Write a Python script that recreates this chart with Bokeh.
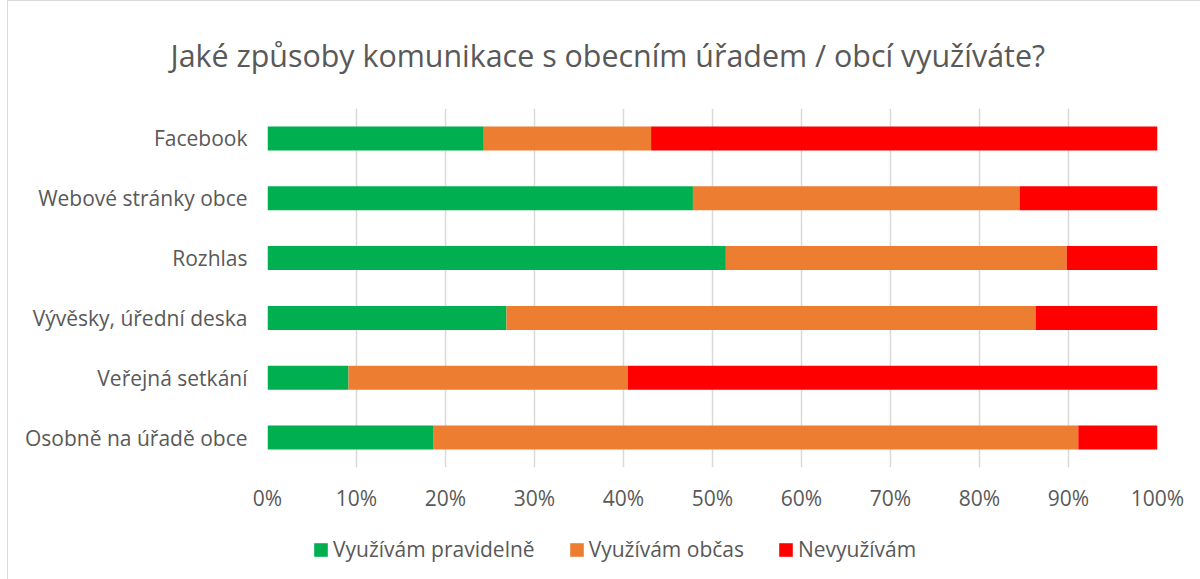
from bokeh.plotting import figure
from bokeh.layouts import column
from bokeh.models import ColumnDataSource, FactorRange, Range1d, NumeralTickFormatter, FixedTicker, Legend, LegendItem
from bokeh.embed import file_html
from bokeh.resources import INLINE

categories = ["Facebook", "Webové stránky obce", "Rozhlas", "Vývěsky, úřední deska", "Veřejná setkání", "Osobně na úřadě obce"]
pravidelne = [24.3, 47.8, 51.5, 26.85, 9.1, 18.6]
obcas = [18.8, 36.7, 38.3, 59.45, 31.4, 72.5]
nevyuzivam = [56.9, 15.5, 10.2, 13.7, 59.5, 8.9]
series_names = ["Využívám pravidelně", "Využívám občas", "Nevyužívám"]
colors = ["#00B050", "#ED7D31", "#FF0000"]
ticks = [i / 10 for i in range(11)]
title_text = "Jaké způsoby komunikace s obecním úřadem  / obcí využíváte?"

FONT = "Open Sans"
TXT = "#595959"

source = ColumnDataSource(dict(
    cat=categories,
    p=[v / 100 for v in pravidelne],
    o=[v / 100 for v in obcas],
    n=[v / 100 for v in nevyuzivam],
))

p = figure(
    width=1192, height=519,
    y_range=FactorRange(*categories[::-1], range_padding=0),
    x_range=Range1d(0, 1),
    output_backend="svg", toolbar_location=None,
    min_border_left=259, min_border_right=43, min_border_top=107, min_border_bottom=53,
)

renderers = p.hbar_stack(["p", "o", "n"], y="cat", height=0.4, color=colors, source=source,
                         line_color=None)

p.title.text = title_text
p.title.text_font = FONT
p.title.text_font_size = "30.4px"
p.title.text_font_style = "normal"
p.title.text_color = TXT
p.title.align = "left"
p.title.offset = -97
p.title.vertical_align = "middle"
p.title.standoff = 63

p.outline_line_color = None
p.ygrid.grid_line_color = None
p.xgrid.grid_line_color = "#d9d9d9"
p.xgrid.grid_line_width = 1.5
p.xaxis.ticker = FixedTicker(ticks=ticks)
p.xaxis.formatter = NumeralTickFormatter(format="0%")
for ax in (p.xaxis[0], p.yaxis[0]):
    ax.axis_line_color = None
    ax.major_tick_line_color = None
    ax.minor_tick_line_color = None
    ax.major_tick_out = 0
    ax.major_tick_in = 0
    ax.major_label_text_font = FONT
    ax.major_label_text_font_size = "21px"
    ax.major_label_text_color = TXT
p.xaxis.major_label_standoff = 16
p.yaxis.major_label_standoff = 20

# legend figure below the chart (its frame is aligned with the chart's frame)
lf = figure(width=1192, height=59, x_range=Range1d(0, 1), y_range=Range1d(0, 1),
            output_backend="svg", toolbar_location=None,
            min_border=0, min_border_left=0, min_border_right=0, min_border_top=0, min_border_bottom=0)
lf.axis.visible = False
lf.grid.visible = False
lf.outline_line_color = None
dummy = []
for c in colors:
    # zero-width proxy bars: only their legend swatches are visible
    r = lf.hbar(y=[-5], left=[0], right=[0], height=0.1, color=c, line_color=None)
    dummy.append(r)
legend = Legend(items=[LegendItem(label=n, renderers=[r]) for n, r in zip(series_names, dummy)],
                orientation="horizontal", location=(45, 16),
                glyph_width=17, glyph_height=17, label_standoff=4, spacing=33,
                padding=0, margin=0, border_line_color=None, background_fill_alpha=0,
                label_text_font=FONT, label_text_font_size="21px", label_text_color=TXT)
lf.add_layout(legend)

layout = column(p, lf, spacing=0)
layout.styles = {"margin-left": "7px",
                 "border-left": "1px solid #d9d9d9", "border-top": "1px solid #d9d9d9"}

open("out.html", "w").write(file_html(layout, INLINE))
